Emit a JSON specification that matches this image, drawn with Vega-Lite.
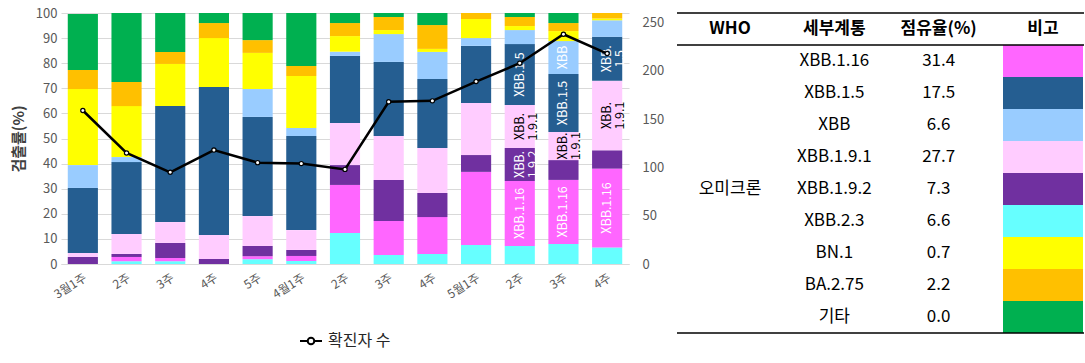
{
  "$schema": "https://vega.github.io/schema/vega-lite/v6.json",
  "padding": {"left": 11, "top": 7, "right": 0, "bottom": 25},
  "bounds": "flush",
  "spacing": 48,
  "config": {"font": "Noto Sans CJK KR", "view": {"stroke": null}, "axisLeft": {"tickCount": 10, "labelOverlap": false}},
  "datasets": {
    "bars": [
      {"week":"3월1주","variant":"XBB.2.3","ord":1,"pct":0,"label":""},
      {"week":"3월1주","variant":"XBB.1.16","ord":2,"pct":0,"label":""},
      {"week":"3월1주","variant":"XBB.1.9.2","ord":3,"pct":2.8,"label":""},
      {"week":"3월1주","variant":"XBB.1.9.1","ord":4,"pct":1.6,"label":""},
      {"week":"3월1주","variant":"XBB.1.5","ord":5,"pct":25.9,"label":""},
      {"week":"3월1주","variant":"XBB","ord":6,"pct":9.1,"label":""},
      {"week":"3월1주","variant":"BN.1","ord":7,"pct":30.3,"label":""},
      {"week":"3월1주","variant":"BA.2.75","ord":8,"pct":7.6,"label":""},
      {"week":"3월1주","variant":"기타","ord":9,"pct":22.3,"label":""},

      {"week":"3월2주","variant":"XBB.2.3","ord":1,"pct":1.1,"label":""},
      {"week":"3월2주","variant":"XBB.1.16","ord":2,"pct":1.7,"label":""},
      {"week":"3월2주","variant":"XBB.1.9.2","ord":3,"pct":1.2,"label":""},
      {"week":"3월2주","variant":"XBB.1.9.1","ord":4,"pct":8.0,"label":""},
      {"week":"3월2주","variant":"XBB.1.5","ord":5,"pct":28.6,"label":""},
      {"week":"3월2주","variant":"XBB","ord":6,"pct":2.0,"label":""},
      {"week":"3월2주","variant":"BN.1","ord":7,"pct":20.3,"label":""},
      {"week":"3월2주","variant":"BA.2.75","ord":8,"pct":9.6,"label":""},
      {"week":"3월2주","variant":"기타","ord":9,"pct":27.5,"label":""},

      {"week":"3월3주","variant":"XBB.2.3","ord":1,"pct":1.1,"label":""},
      {"week":"3월3주","variant":"XBB.1.16","ord":2,"pct":1.3,"label":""},
      {"week":"3월3주","variant":"XBB.1.9.2","ord":3,"pct":6.0,"label":""},
      {"week":"3월3주","variant":"XBB.1.9.1","ord":4,"pct":8.3,"label":""},
      {"week":"3월3주","variant":"XBB.1.5","ord":5,"pct":46.2,"label":""},
      {"week":"3월3주","variant":"XBB","ord":6,"pct":0,"label":""},
      {"week":"3월3주","variant":"BN.1","ord":7,"pct":16.8,"label":""},
      {"week":"3월3주","variant":"BA.2.75","ord":8,"pct":4.8,"label":""},
      {"week":"3월3주","variant":"기타","ord":9,"pct":15.5,"label":""},

      {"week":"3월4주","variant":"XBB.2.3","ord":1,"pct":0,"label":""},
      {"week":"3월4주","variant":"XBB.1.16","ord":2,"pct":0,"label":""},
      {"week":"3월4주","variant":"XBB.1.9.2","ord":3,"pct":2.0,"label":""},
      {"week":"3월4주","variant":"XBB.1.9.1","ord":4,"pct":9.6,"label":""},
      {"week":"3월4주","variant":"XBB.1.5","ord":5,"pct":58.9,"label":""},
      {"week":"3월4주","variant":"XBB","ord":6,"pct":0,"label":""},
      {"week":"3월4주","variant":"BN.1","ord":7,"pct":19.5,"label":""},
      {"week":"3월4주","variant":"BA.2.75","ord":8,"pct":6.0,"label":""},
      {"week":"3월4주","variant":"기타","ord":9,"pct":4.0,"label":""},

      {"week":"3월5주","variant":"XBB.2.3","ord":1,"pct":1.9,"label":""},
      {"week":"3월5주","variant":"XBB.1.16","ord":2,"pct":1.2,"label":""},
      {"week":"3월5주","variant":"XBB.1.9.2","ord":3,"pct":4.1,"label":""},
      {"week":"3월5주","variant":"XBB.1.9.1","ord":4,"pct":11.9,"label":""},
      {"week":"3월5주","variant":"XBB.1.5","ord":5,"pct":39.5,"label":""},
      {"week":"3월5주","variant":"XBB","ord":6,"pct":11.1,"label":""},
      {"week":"3월5주","variant":"BN.1","ord":7,"pct":14.4,"label":""},
      {"week":"3월5주","variant":"BA.2.75","ord":8,"pct":5.1,"label":""},
      {"week":"3월5주","variant":"기타","ord":9,"pct":10.8,"label":""},

      {"week":"4월1주","variant":"XBB.2.3","ord":1,"pct":1.2,"label":""},
      {"week":"4월1주","variant":"XBB.1.16","ord":2,"pct":2.0,"label":""},
      {"week":"4월1주","variant":"XBB.1.9.2","ord":3,"pct":2.4,"label":""},
      {"week":"4월1주","variant":"XBB.1.9.1","ord":4,"pct":7.9,"label":""},
      {"week":"4월1주","variant":"XBB.1.5","ord":5,"pct":37.5,"label":""},
      {"week":"4월1주","variant":"XBB","ord":6,"pct":3.2,"label":""},
      {"week":"4월1주","variant":"BN.1","ord":7,"pct":20.7,"label":""},
      {"week":"4월1주","variant":"BA.2.75","ord":8,"pct":4.0,"label":""},
      {"week":"4월1주","variant":"기타","ord":9,"pct":21.1,"label":""},

      {"week":"4월2주","variant":"XBB.2.3","ord":1,"pct":12.4,"label":""},
      {"week":"4월2주","variant":"XBB.1.16","ord":2,"pct":19.1,"label":""},
      {"week":"4월2주","variant":"XBB.1.9.2","ord":3,"pct":7.9,"label":""},
      {"week":"4월2주","variant":"XBB.1.9.1","ord":4,"pct":16.8,"label":""},
      {"week":"4월2주","variant":"XBB.1.5","ord":5,"pct":26.7,"label":""},
      {"week":"4월2주","variant":"XBB","ord":6,"pct":1.7,"label":""},
      {"week":"4월2주","variant":"BN.1","ord":7,"pct":6.2,"label":""},
      {"week":"4월2주","variant":"BA.2.75","ord":8,"pct":5.2,"label":""},
      {"week":"4월2주","variant":"기타","ord":9,"pct":4.0,"label":""},

      {"week":"4월3주","variant":"XBB.2.3","ord":1,"pct":3.6,"label":""},
      {"week":"4월3주","variant":"XBB.1.16","ord":2,"pct":13.5,"label":""},
      {"week":"4월3주","variant":"XBB.1.9.2","ord":3,"pct":16.4,"label":""},
      {"week":"4월3주","variant":"XBB.1.9.1","ord":4,"pct":17.5,"label":""},
      {"week":"4월3주","variant":"XBB.1.5","ord":5,"pct":29.5,"label":""},
      {"week":"4월3주","variant":"XBB","ord":6,"pct":11.1,"label":""},
      {"week":"4월3주","variant":"BN.1","ord":7,"pct":1.6,"label":""},
      {"week":"4월3주","variant":"BA.2.75","ord":8,"pct":5.2,"label":""},
      {"week":"4월3주","variant":"기타","ord":9,"pct":1.6,"label":""},

      {"week":"4월4주","variant":"XBB.2.3","ord":1,"pct":4.0,"label":""},
      {"week":"4월4주","variant":"XBB.1.16","ord":2,"pct":14.7,"label":""},
      {"week":"4월4주","variant":"XBB.1.9.2","ord":3,"pct":9.6,"label":""},
      {"week":"4월4주","variant":"XBB.1.9.1","ord":4,"pct":17.9,"label":""},
      {"week":"4월4주","variant":"XBB.1.5","ord":5,"pct":27.5,"label":""},
      {"week":"4월4주","variant":"XBB","ord":6,"pct":10.8,"label":""},
      {"week":"4월4주","variant":"BN.1","ord":7,"pct":1.2,"label":""},
      {"week":"4월4주","variant":"BA.2.75","ord":8,"pct":9.5,"label":""},
      {"week":"4월4주","variant":"기타","ord":9,"pct":4.8,"label":""},

      {"week":"5월1주","variant":"XBB.2.3","ord":1,"pct":7.6,"label":""},
      {"week":"5월1주","variant":"XBB.1.16","ord":2,"pct":29.1,"label":""},
      {"week":"5월1주","variant":"XBB.1.9.2","ord":3,"pct":6.7,"label":""},
      {"week":"5월1주","variant":"XBB.1.9.1","ord":4,"pct":20.7,"label":""},
      {"week":"5월1주","variant":"XBB.1.5","ord":5,"pct":22.8,"label":""},
      {"week":"5월1주","variant":"XBB","ord":6,"pct":3.1,"label":""},
      {"week":"5월1주","variant":"BN.1","ord":7,"pct":7.6,"label":""},
      {"week":"5월1주","variant":"BA.2.75","ord":8,"pct":2.4,"label":""},
      {"week":"5월1주","variant":"기타","ord":9,"pct":0,"label":""},

      {"week":"5월2주","variant":"XBB.2.3","ord":1,"pct":7.2,"label":""},
      {"week":"5월2주","variant":"XBB.1.16","ord":2,"pct":25.9,"label":"XBB.1.16"},
      {"week":"5월2주","variant":"XBB.1.9.2","ord":3,"pct":13.1,"label":"XBB.|1.9.2"},
      {"week":"5월2주","variant":"XBB.1.9.1","ord":4,"pct":17.1,"label":"XBB.|1.9.1"},
      {"week":"5월2주","variant":"XBB.1.5","ord":5,"pct":24.3,"label":"XBB.1.5"},
      {"week":"5월2주","variant":"XBB","ord":6,"pct":5.6,"label":""},
      {"week":"5월2주","variant":"BN.1","ord":7,"pct":1.6,"label":""},
      {"week":"5월2주","variant":"BA.2.75","ord":8,"pct":3.6,"label":""},
      {"week":"5월2주","variant":"기타","ord":9,"pct":1.6,"label":""},

      {"week":"5월3주","variant":"XBB.2.3","ord":1,"pct":8.0,"label":""},
      {"week":"5월3주","variant":"XBB.1.16","ord":2,"pct":25.5,"label":"XBB.1.16"},
      {"week":"5월3주","variant":"XBB.1.9.2","ord":3,"pct":7.9,"label":""},
      {"week":"5월3주","variant":"XBB.1.9.1","ord":4,"pct":11.2,"label":"XBB.|1.9.1"},
      {"week":"5월3주","variant":"XBB.1.5","ord":5,"pct":23.1,"label":"XBB.1.5"},
      {"week":"5월3주","variant":"XBB","ord":6,"pct":13.1,"label":"XBB"},
      {"week":"5월3주","variant":"BN.1","ord":7,"pct":4.0,"label":""},
      {"week":"5월3주","variant":"BA.2.75","ord":8,"pct":3.2,"label":""},
      {"week":"5월3주","variant":"기타","ord":9,"pct":4.0,"label":""},

      {"week":"5월4주","variant":"XBB.2.3","ord":1,"pct":6.6,"label":""},
      {"week":"5월4주","variant":"XBB.1.16","ord":2,"pct":31.4,"label":"XBB.1.16"},
      {"week":"5월4주","variant":"XBB.1.9.2","ord":3,"pct":7.3,"label":""},
      {"week":"5월4주","variant":"XBB.1.9.1","ord":4,"pct":27.7,"label":"XBB.|1.9.1"},
      {"week":"5월4주","variant":"XBB.1.5","ord":5,"pct":17.5,"label":"XBB.|1.5"},
      {"week":"5월4주","variant":"XBB","ord":6,"pct":6.6,"label":""},
      {"week":"5월4주","variant":"BN.1","ord":7,"pct":0.7,"label":""},
      {"week":"5월4주","variant":"BA.2.75","ord":8,"pct":2.2,"label":""},
      {"week":"5월4주","variant":"기타","ord":9,"pct":0.0,"label":""}
    ],
    "cases": [
      {"week":"3월1주","cases":159},
      {"week":"3월2주","cases":115},
      {"week":"3월3주","cases":95},
      {"week":"3월4주","cases":118},
      {"week":"3월5주","cases":105},
      {"week":"4월1주","cases":104},
      {"week":"4월2주","cases":98},
      {"week":"4월3주","cases":168},
      {"week":"4월4주","cases":169},
      {"week":"5월1주","cases":189},
      {"week":"5월2주","cases":208},
      {"week":"5월3주","cases":238},
      {"week":"5월4주","cases":218}
    ],
    "share": [
      {"variant":"XBB.1.16","share":31.4},
      {"variant":"XBB.1.5","share":17.5},
      {"variant":"XBB","share":6.6},
      {"variant":"XBB.1.9.1","share":27.7},
      {"variant":"XBB.1.9.2","share":7.3},
      {"variant":"XBB.2.3","share":6.6},
      {"variant":"BN.1","share":0.7},
      {"variant":"BA.2.75","share":2.2},
      {"variant":"기타","share":0.0}
    ]
  },
  "resolve": {"scale": {"stroke": "independent"}, "legend": {"stroke": "independent"}},
  "hconcat": [
    {
      "width": 568,
      "height": 251,
      "layer": [
        {
          "data": {"name": "bars"},
          "layer": [
            {
              "mark": {"type": "bar"},
              "encoding": {
                "x": {"field": "week", "type": "nominal", "sort": null, "title": null,
                  "scale": {"paddingInner": 0.31, "paddingOuter": 0.155},
                  "axis": {"labelAngle": -32, "labelAlign": "right", "labelBaseline": "top", "labelPadding": 8, "ticks": false, "domainColor": "#d9d9d9", "labelColor": "#595959", "labelFontSize": 12,
                    "labelExpr": "indexof(datum.label, '1주') > 0 ? datum.label : substring(datum.label, 2)"}},
                "y": {"field": "pct", "type": "quantitative", "stack": "zero", "title": "검출률(%)",
                  "scale": {"domain": [0, 100], "nice": false},
                  "axis": {"tickCount": 10, "labelOverlap": false, "grid": true, "gridColor": "#d9d9d9", "domain": false, "ticks": false, "labelColor": "#595959", "labelFontSize": 13, "labelPadding": 4, "titleFontSize": 15, "titleFontWeight": "bold", "titleColor": "#404040", "titlePadding": 9}},
                "color": {"field": "variant", "type": "nominal", "legend": null,
                  "scale": {"domain": ["XBB.2.3","XBB.1.16","XBB.1.9.2","XBB.1.9.1","XBB.1.5","XBB","BN.1","BA.2.75","기타"],
                    "range": ["#66FFFF","#FF66FF","#7030A0","#FFCCFF","#255E91","#99CCFF","#FFFF00","#FFC000","#00B050"]}},
                "order": {"field": "ord", "type": "quantitative"}
              }
            },
            {
              "mark": {"type": "text", "angle": 270, "fontSize": 12.5, "lineBreak": "|", "lineHeight": 13, "baseline": "middle", "align": "center"},
              "encoding": {
                "x": {"field": "week", "type": "nominal", "sort": null},
                "y": {"field": "pct", "type": "quantitative", "stack": "zero", "bandPosition": 0.5},
                "detail": {"field": "variant", "type": "nominal"},
                "order": {"field": "ord", "type": "quantitative"},
                "text": {"field": "label", "type": "nominal"},
                "color": {"condition": {"test": "datum.variant === 'XBB.1.9.1'", "value": "black"}, "value": "white"}
              }
            }
          ]
        },
        {
          "data": {"name": "cases"},
          "layer": [
            {
              "mark": {"type": "line", "strokeWidth": 2.5},
              "encoding": {
                "x": {"field": "week", "type": "nominal", "sort": null},
                "y": {"field": "cases", "type": "quantitative", "title": null,
                  "scale": {"domain": [0, 250]},
                  "axis": {"orient": "right", "values": [0,50,100,150,200,250], "labelOverlap": false, "grid": false, "domain": false, "ticks": false, "labelColor": "#595959", "labelFontSize": 13, "labelPadding": 13}},
                "stroke": {"datum": "확진자 수", "type": "nominal", "scale": {"range": ["black"]},
                  "legend": {"title": null, "orient": "none", "legendX": 238, "legendY": 316,
                    "symbolType": "M-1,0L-0.3,0M0.3,0L1,0M0.3,0A0.3,0.3,0,1,1,-0.3,0A0.3,0.3,0,1,1,0.3,0",
                    "symbolSize": 484, "symbolStrokeWidth": 2, "labelFontSize": 16, "labelColor": "#262626", "labelOffset": 5,
                    "encode": {"symbols": {"update": {"fill": {"value": "white"}, "stroke": {"value": "black"}}}}}}
              }
            },
            {
              "mark": {"type": "point", "filled": true, "fill": "white", "stroke": "black", "strokeWidth": 1.2, "size": 18, "opacity": 1},
              "encoding": {
                "x": {"field": "week", "type": "nominal", "sort": null},
                "y": {"field": "cases", "type": "quantitative"}
              }
            }
          ]
        }
      ],
      "resolve": {"scale": {"y": "independent"}}
    },
    {
      "width": 407,
      "height": 320,
      "layer": [
        {
          "data": {"name": "share"},
          "mark": {"type": "rect", "width": 80},
          "encoding": {
            "x": {"datum": "비고", "type": "nominal", "axis": null,
              "scale": {"type": "point", "domain": ["WHO","세부계통","점유율(%)","비고"], "range": [53, 366], "padding": 0}},
            "y": {"field": "variant", "type": "nominal", "axis": null,
              "scale": {"type": "band", "domain": ["header","XBB.1.16","XBB.1.5","XBB","XBB.1.9.1","XBB.1.9.2","XBB.2.3","BN.1","BA.2.75","기타"], "paddingInner": 0, "paddingOuter": 0}},
            "color": {"field": "variant", "type": "nominal", "legend": null}
          }
        },
        {
          "data": {"values": [{"col": "WHO"}, {"col": "세부계통"}, {"col": "점유율(%)"}, {"col": "비고"}]},
          "mark": {"type": "text", "fontSize": 17, "fontWeight": "bold", "color": "black"},
          "encoding": {
            "x": {"field": "col", "type": "nominal"},
            "y": {"datum": "header", "type": "nominal"},
            "text": {"field": "col", "type": "nominal"}
          }
        },
        {
          "data": {"name": "share"},
          "mark": {"type": "text", "fontSize": 17, "color": "black"},
          "encoding": {
            "x": {"datum": "세부계통", "type": "nominal"},
            "y": {"field": "variant", "type": "nominal"},
            "text": {"field": "variant", "type": "nominal"}
          }
        },
        {
          "data": {"name": "share"},
          "mark": {"type": "text", "fontSize": 17, "color": "black"},
          "encoding": {
            "x": {"datum": "점유율(%)", "type": "nominal"},
            "y": {"field": "variant", "type": "nominal"},
            "text": {"field": "share", "type": "quantitative", "format": ".1f"}
          }
        },
        {
          "data": {"values": [{"who": "오미크론"}]},
          "mark": {"type": "text", "fontSize": 17, "color": "black"},
          "encoding": {
            "x": {"datum": "WHO", "type": "nominal"},
            "y": {"datum": "XBB.1.9.2", "type": "nominal"},
            "text": {"field": "who", "type": "nominal"}
          }
        },
        {
          "data": {"values": [{}]},
          "mark": {"type": "rule", "color": "black", "strokeWidth": 1.5},
          "encoding": {"y": {"datum": "header", "type": "nominal", "bandPosition": 0}}
        },
        {
          "data": {"values": [{}]},
          "mark": {"type": "rule", "color": "black", "strokeWidth": 1.5},
          "encoding": {"y": {"datum": "header", "type": "nominal", "bandPosition": 1}}
        },
        {
          "data": {"values": [{}]},
          "mark": {"type": "rule", "color": "black", "strokeWidth": 1.5},
          "encoding": {"y": {"datum": "기타", "type": "nominal", "bandPosition": 1}}
        }
      ]
    }
  ]
}
